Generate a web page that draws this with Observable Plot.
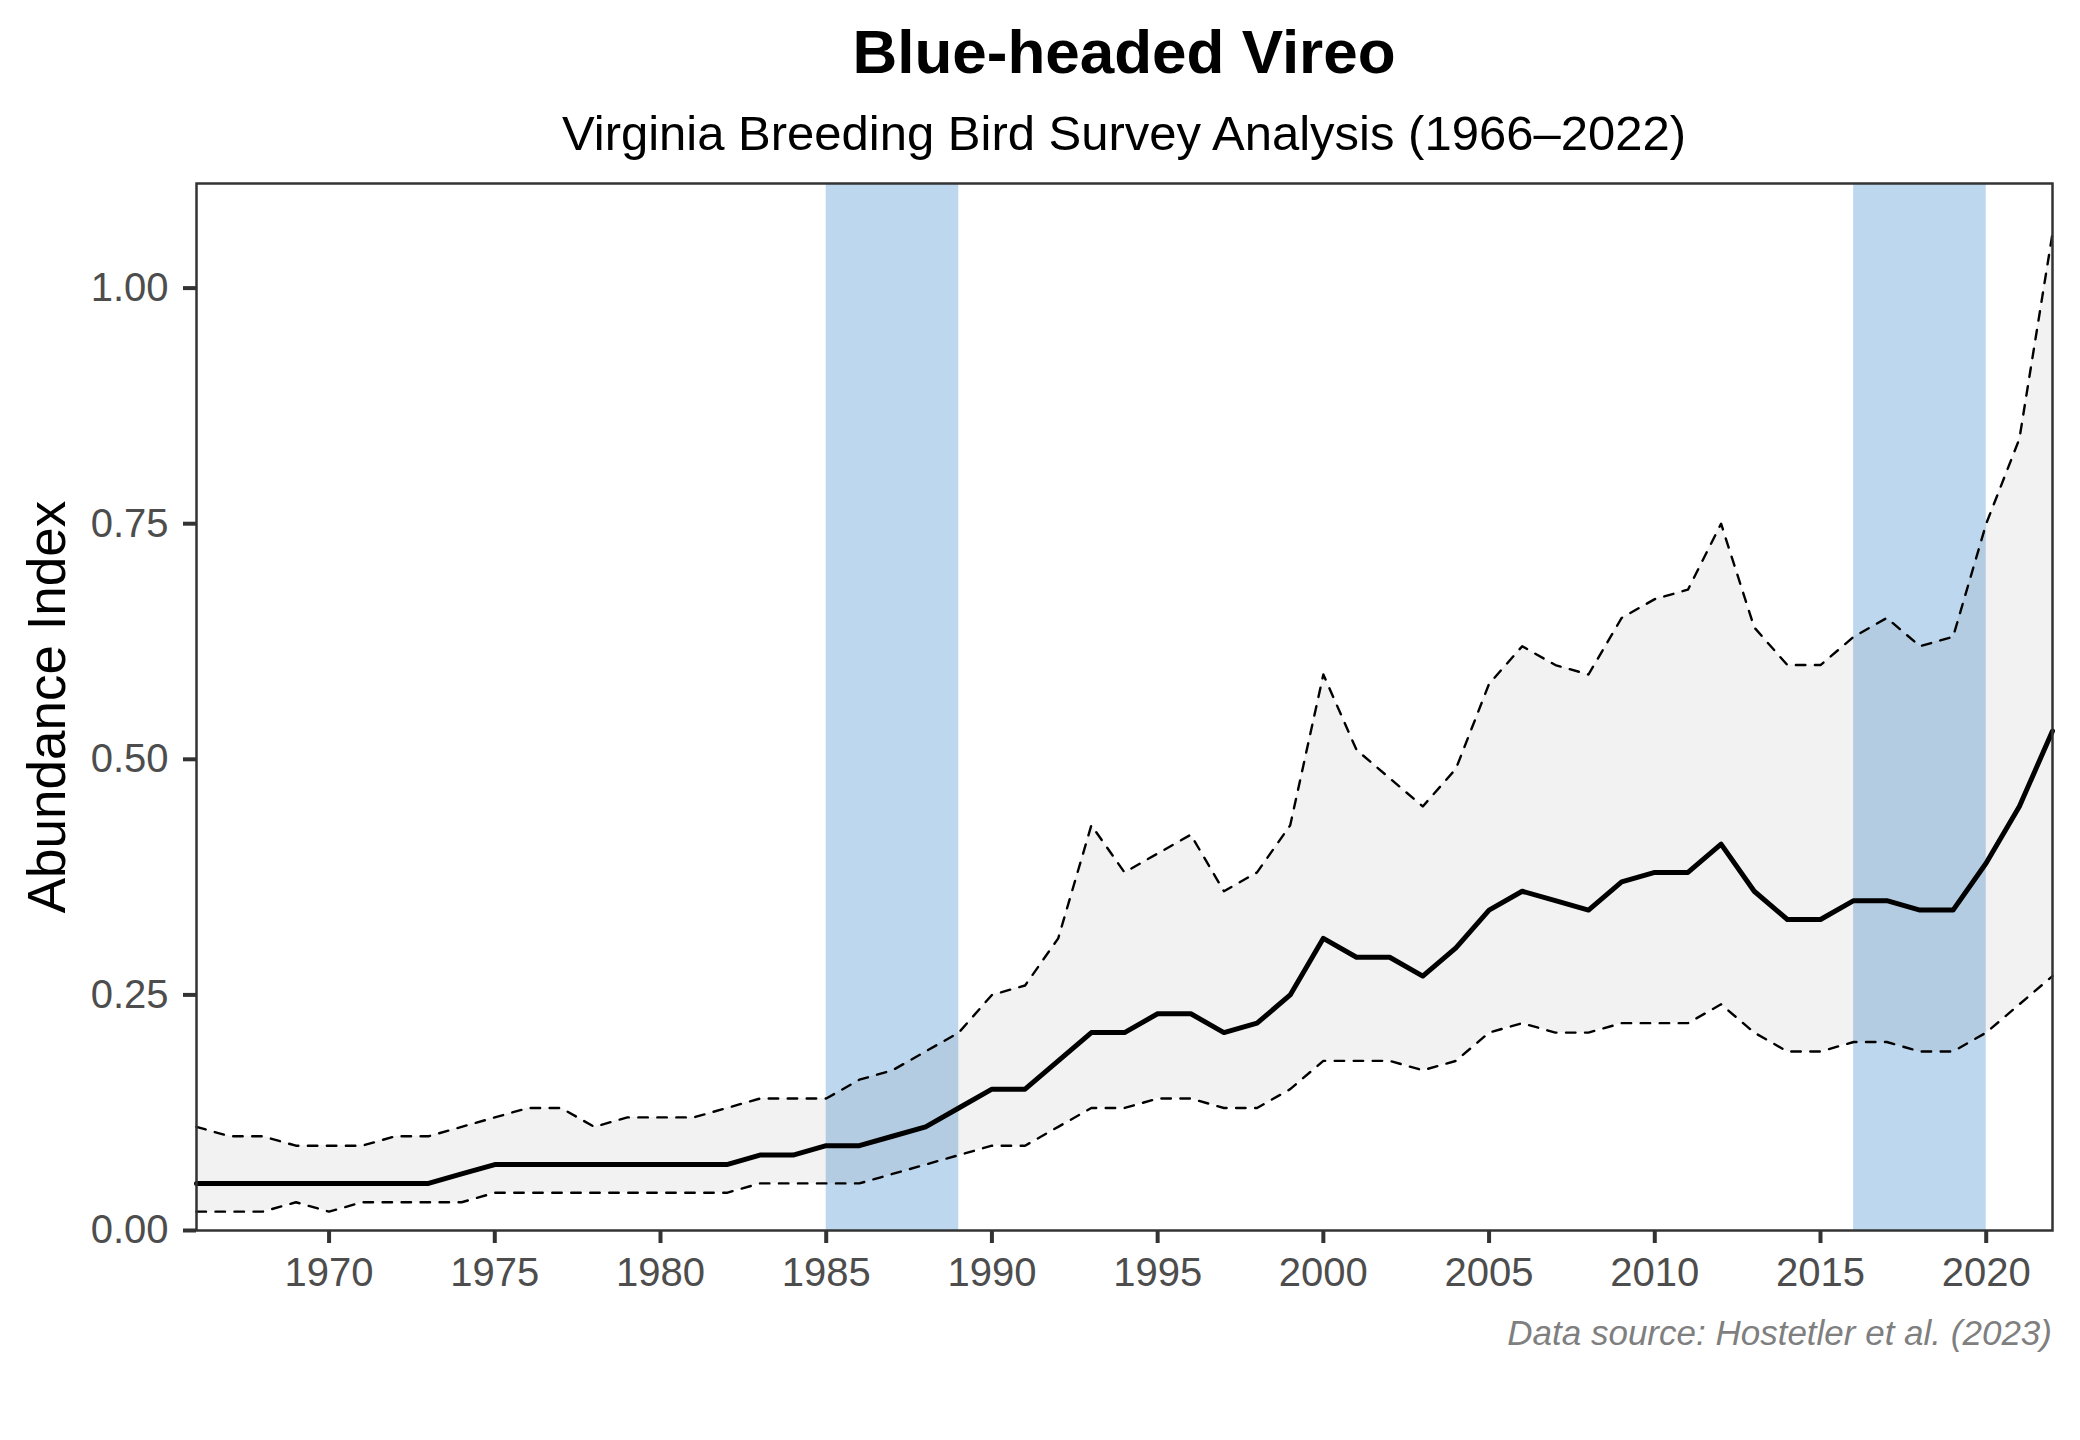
<!DOCTYPE html>
<html>
<head>
<meta charset="utf-8">
<script src="https://cdn.jsdelivr.net/npm/d3@7"></script>
<script src="https://cdn.jsdelivr.net/npm/@observablehq/plot@0.6"></script>
<style>
  html, body { margin: 0; padding: 0; background: #fff; }
  body { width: 2080px; height: 1440px; position: relative; font-family: "Liberation Sans", Arial, sans-serif; }
  .t { position: absolute; left: 196px; width: 1856px; text-align: center; line-height: 1; color: #000; white-space: nowrap; }
  #title { top: 21px; font-size: 62px; font-weight: bold; }
  #subtitle { top: 109px; font-size: 49px; }
  #chart { position: absolute; left: 0; top: 170px; }
  #caption { position: absolute; right: 28px; top: 1315px; font-size: 35px; font-style: italic; color: #7f7f7f; line-height: 1; white-space: nowrap; }
</style>
</head>
<body>
<div id="title" class="t">Blue-headed Vireo</div>
<div id="subtitle" class="t">Virginia Breeding Bird Survey Analysis (1966–2022)</div>
<div id="chart"></div>
<div id="caption">Data source: Hostetler et al. (2023)</div>
<script>
const years = [1966,1967,1968,1969,1970,1971,1972,1973,1974,1975,1976,1977,1978,1979,1980,1981,1982,1983,1984,1985,1986,1987,1988,1989,1990,1991,1992,1993,1994,1995,1996,1997,1998,1999,2000,2001,2002,2003,2004,2005,2006,2007,2008,2009,2010,2011,2012,2013,2014,2015,2016,2017,2018,2019,2020,2021,2022];
const index = [0.05,0.05,0.05,0.05,0.05,0.05,0.05,0.05,0.06,0.07,0.07,0.07,0.07,0.07,0.07,0.07,0.07,0.08,0.08,0.09,0.09,0.10,0.11,0.13,0.15,0.15,0.18,0.21,0.21,0.23,0.23,0.21,0.22,0.25,0.31,0.29,0.29,0.27,0.30,0.34,0.36,0.35,0.34,0.37,0.38,0.38,0.41,0.36,0.33,0.33,0.35,0.35,0.34,0.34,0.39,0.45,0.53];
const upper = [0.11,0.10,0.10,0.09,0.09,0.09,0.10,0.10,0.11,0.12,0.13,0.13,0.11,0.12,0.12,0.12,0.13,0.14,0.14,0.14,0.16,0.17,0.19,0.21,0.25,0.26,0.31,0.43,0.38,0.40,0.42,0.36,0.38,0.43,0.59,0.51,0.48,0.45,0.49,0.58,0.62,0.60,0.59,0.65,0.67,0.68,0.75,0.64,0.60,0.60,0.63,0.65,0.62,0.63,0.75,0.84,1.058];
const lower = [0.02,0.02,0.02,0.03,0.02,0.03,0.03,0.03,0.03,0.04,0.04,0.04,0.04,0.04,0.04,0.04,0.04,0.05,0.05,0.05,0.05,0.06,0.07,0.08,0.09,0.09,0.11,0.13,0.13,0.14,0.14,0.13,0.13,0.15,0.18,0.18,0.18,0.17,0.18,0.21,0.22,0.21,0.21,0.22,0.22,0.22,0.24,0.21,0.19,0.19,0.20,0.20,0.19,0.19,0.21,0.24,0.27];
const bandStart = [1985, 2016];
const bandEnd = [1989, 2020];
const xTicks = [1970,1975,1980,1985,1990,1995,2000,2005,2010,2015,2020];
const yTicks = [0, 0.25, 0.5, 0.75, 1.0];
const yLabel = "Abundance Index";

const data = years.map((y, i) => ({year: y, index: index[i], upper: upper[i], lower: lower[i]}));
const bands = bandStart.map((s, i) => ({x1: s, x2: bandEnd[i]}));

const chart = Plot.plot({
  width: 2080,
  height: 1137,
  marginLeft: 196,
  marginRight: 28,
  marginTop: 13,
  marginBottom: 77,
  style: {fontFamily: "'Liberation Sans', Arial, sans-serif", fontSize: "40px", background: "transparent"},
  x: {domain: [1966, 2022]},
  y: {domain: [0, 1.111]},
  marks: [
    Plot.rect(bands, {x1: "x1", x2: "x2", fill: "#bdd7ee"}),
    Plot.areaY(data, {x: "year", y1: "lower", y2: "upper", fill: "#000", fillOpacity: 0.05}),
    Plot.lineY(data, {x: "year", y: "upper", stroke: "#000", strokeWidth: 2.4, strokeDasharray: "9.5,9.5"}),
    Plot.lineY(data, {x: "year", y: "lower", stroke: "#000", strokeWidth: 2.4, strokeDasharray: "9.5,9.5"}),
    Plot.lineY(data, {x: "year", y: "index", stroke: "#000", strokeWidth: 5}),
    Plot.axisX({ticks: xTicks, tickFormat: d => String(d), tickSize: 13, tickPadding: 14, stroke: "#333", strokeWidth: 4, strokeOpacity: 1, fill: "#4d4d4d", fontSize: 40, label: null}),
    Plot.axisY({ticks: yTicks, tickFormat: d => d.toFixed(2), tickSize: 13, tickPadding: 15, stroke: "#333", strokeWidth: 4, strokeOpacity: 1, fill: "#4d4d4d", fontSize: 40, label: null}),
    Plot.frame({stroke: "#333", strokeWidth: 2.5}),
    Plot.text([yLabel], {frameAnchor: "left", text: d => d, rotate: -90, dx: -148, textAnchor: "middle", fontSize: 53, fill: "#000"})
  ]
});
document.getElementById("chart").appendChild(chart);
</script>
</body>
</html>
